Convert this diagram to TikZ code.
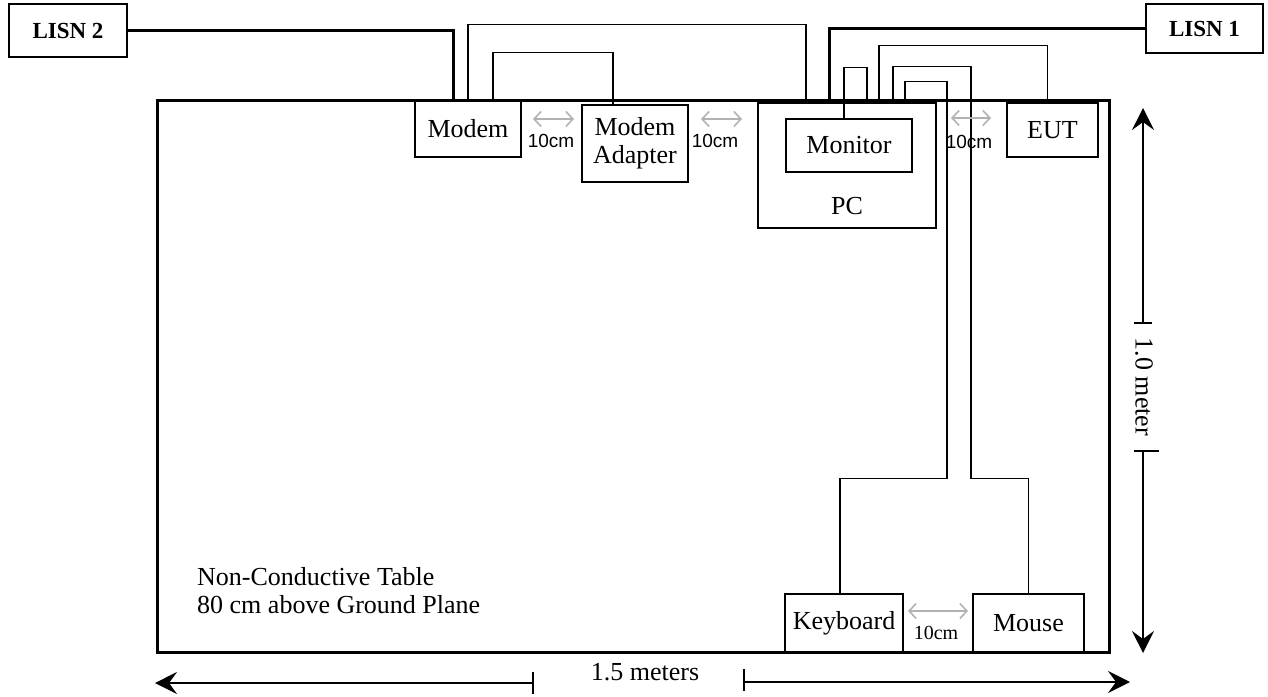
\documentclass[tikz,border=0pt]{standalone}
\usepackage{fontspec}
\setmainfont{Liberation Serif}
\setsansfont{Liberation Sans}
\usetikzlibrary{positioning,arrows.meta}

\begin{document}
\begin{tikzpicture}[
    x=1pt, y=-1pt,
    font=\fontsize{26}{28}\selectfont,
    tablebox/.style={
        draw,
        line width=3pt,
        inner sep=0pt
    },
    unit/.style={
        draw,
        line width=1.5pt,
        inner sep=0pt,
        align=center
    },
    lisn/.style={
        unit,
        font=\fontsize{23}{26}\selectfont\bfseries
    },
    cable/.style={line width=1.5pt},
    power/.style={line width=3pt},
    gap/.style={<->, >={Straight Barb[length=7pt,width=15pt]}, gray!60, line width=1.6pt},
    gaplabel/.style={font=\fontsize{19}{21}\selectfont\sffamily, inner sep=0pt},
    dim/.style={->, >={Stealth[length=22pt,width=22pt,inset=8pt]}, line width=1.5pt},
    tick/.style={line width=1.5pt},
    note/.style={align=left, inner sep=0pt}
]
\useasboundingbox (0,0) rectangle (1268,696);

% table and equipment
\node[tablebox, minimum width=952, minimum height=552] (tbl) at (633,376) {};
\node[note, anchor=west] (tbltext) at (197,591) {Non-Conductive Table\\80 cm above Ground Plane};

\node[lisn, minimum width=118, minimum height=53] (lisn2) at (68,30.5) {LISN 2};
\node[lisn, minimum width=117, minimum height=49] (lisn1) at (1204.5,28.5) {LISN 1};

\node[unit, minimum width=106, minimum height=57] (modem) at (468,128.5) {Modem};
\node[unit, minimum width=106, minimum height=77] (adapter) at (635,143.5) {Modem\\Adapter};
\node[unit, minimum width=178, minimum height=125] (pc) at (847,165.5) {};
\node (pctext) at ([yshift=23pt]pc.south) {PC};
\node[unit, minimum width=126, minimum height=53] (monitor) at (849,145.5) {Monitor};
\node[unit, minimum width=91, minimum height=54] (eut) at (1052.5,130) {EUT};
\node[unit, minimum width=118, minimum height=58] (keyboard) at (844,623) {Keyboard};
\node[unit, minimum width=111, minimum height=58] (mouse) at (1028.5,623) {Mouse};

% mains to LISNs
\draw[power] (lisn2.east) -| ([xshift=-15pt]modem.north);
\draw[power] (lisn1.west) -| ([xshift=-18pt]pc.north);

% signal cables
\draw[cable] (modem.north) -- ++(0,-75) -| ([xshift=-41pt]pc.north);
\draw[cable] ([xshift=25pt]modem.north) -- ++(0,-47) -| ([xshift=-22pt]adapter.north);
\draw[cable] ([xshift=-5pt]monitor.north) -- ++(0,-51) -| ([xshift=20pt]pc.north);
\draw[cable] ([xshift=32pt]pc.north) -- ++(0,-57) -| ([xshift=-5pt]eut.north);
\draw[cable] ([xshift=46pt]pc.north) -- ++(0,-36) -- ++(78,0)
    |- ([yshift=115pt]mouse.north) -- (mouse.north);
\draw[cable] ([xshift=58pt]pc.north) -- ++(0,-21) -- ++(42,0)
    |- ([xshift=-4pt,yshift=115pt]keyboard.north) -- ([xshift=-4pt]keyboard.north);

% 10cm spacings
\draw[gap] (533,119) -- (574,119);
\node[gaplabel] (gap1) at (551,141) {10cm};
\draw[gap] (701,119) -- (742,119);
\node[gaplabel] (gap2) at (715,141) {10cm};
\draw[gap] (951,118) -- (991,118);
\node[gaplabel] (gap3) at (969,142) {10cm};
\draw[gap] (908,611) -- (968,611);
\node[gaplabel, font=\fontsize{20}{22}\selectfont] (gap4) at (936,633) {10cm};

% table size
\draw[dim] (1143,323) -- (1143,108);
\draw[tick] (1134,323) -- (1152,323);
\draw[dim] (1143,451) -- (1143,653);
\draw[tick] (1134,451) -- (1159,451);
\node[rotate=-90] (depth) at (1144,387) {1.0 meter};

\draw[dim] (533,683) -- (155,683);
\draw[tick] (533,672) -- (533,694);
\draw[dim] (744,682) -- (1130,682);
\draw[tick] (744,669) -- (744,691);
\node (width) at (645,672) {1.5 meters};

\end{tikzpicture}
\end{document}
